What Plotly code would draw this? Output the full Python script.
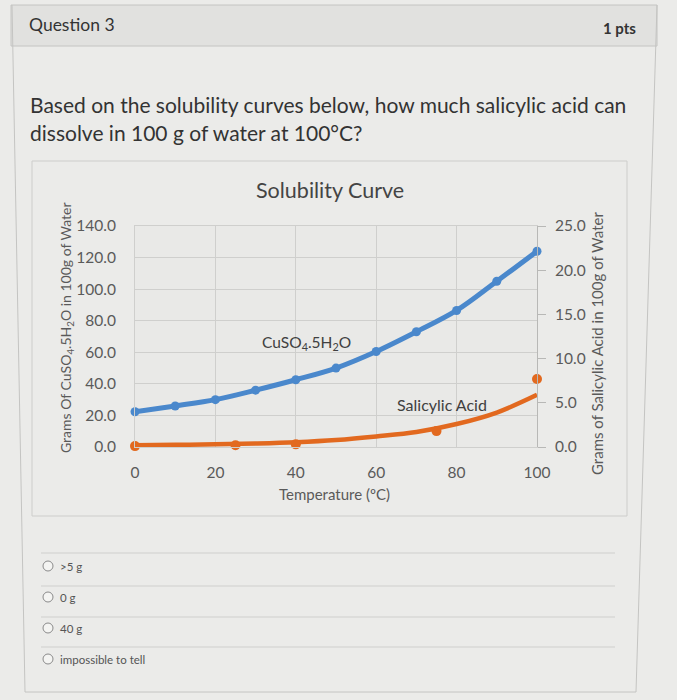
import plotly.graph_objects as go

W, H = 677, 700

# data
temperature = [0, 10, 20, 30, 40, 50, 60, 70, 80, 90, 100]
cuso4 = [22.3, 26.0, 30.0, 36.0, 42.6, 50.0, 60.5, 73.0, 86.5, 105.0, 124.0]

salicylic_temp = [0, 25, 40, 75, 100]
salicylic = [0.1, 0.2, 0.3, 1.8, 7.7]

trend_temp = [0, 10, 20, 30, 40, 50, 60, 70, 80, 90, 100]
salicylic_trend = [0.2, 0.25, 0.3, 0.4, 0.55, 0.8, 1.2, 1.7, 2.6, 3.9, 5.9]

x_ticks = [0, 20, 40, 60, 80, 100]
left_ticks = [0, 20, 40, 60, 80, 100, 120, 140]
right_ticks = [0, 5, 10, 15, 20, 25]

options = [">5 g", "0 g", "40 g", "impossible to tell"]


def px(x, y):
    # pixel position -> paper coordinates
    return x / W, 1 - y / H


BLUE = "#4a88cc"
ORANGE = "#e2691f"
GRID = "#cfcfcd"
TICK = "#5a5a5a"
BG = "#ebebe9"
FONT = "Lato"

fig = go.Figure()

fig.add_trace(go.Scatter(
    x=temperature, y=cuso4, mode="lines+markers", line_shape="spline",
    line=dict(color=BLUE, width=5), marker=dict(color=BLUE, size=9),
    cliponaxis=False, name="CuSO4.5H2O",
))
fig.add_trace(go.Scatter(
    x=trend_temp, y=salicylic_trend, mode="lines", line_shape="spline",
    line=dict(color=ORANGE, width=4.5), yaxis="y2", cliponaxis=False,
    name="Salicylic Acid trend",
))
fig.add_trace(go.Scatter(
    x=salicylic_temp, y=salicylic, mode="markers",
    marker=dict(color=ORANGE, size=10), yaxis="y2", cliponaxis=False,
    name="Salicylic Acid",
))

x0, y0 = px(135, 447)
x1, y1 = px(537, 226)

fig.update_layout(
    width=W, height=H, autosize=False,
    margin=dict(l=0, r=0, t=0, b=0, pad=0),
    paper_bgcolor=BG,
    plot_bgcolor="#e9e9e7",
    showlegend=False,
    font=dict(family=FONT, color=TICK, size=14),
    xaxis=dict(
        domain=[x0, x1], range=[0, 100], tickvals=x_ticks, automargin=False,
        showgrid=True, gridcolor=GRID, gridwidth=1, zeroline=False,
        showline=True, linecolor=GRID, mirror=True,
        ticks="outside", ticklen=11, tickcolor="rgba(0,0,0,0)",
        tickfont=dict(size=15.5, color=TICK),
    ),
    yaxis=dict(
        domain=[y0, y1], range=[0, 140], tickvals=left_ticks, tickformat=".1f",
        automargin=False,
        showgrid=True, gridcolor=GRID, gridwidth=1, zeroline=False,
        showline=True, linecolor=GRID, mirror=True,
        ticks="outside", ticklen=15, tickcolor="rgba(0,0,0,0)",
        tickfont=dict(size=15.5, color=TICK),
    ),
    yaxis2=dict(
        overlaying="y", side="right", range=[0, 25], tickvals=right_ticks,
        tickformat=".1f", showgrid=False, zeroline=False, automargin=False,
        showline=True, linecolor="#b8b8b6",
        ticks="outside", ticklen=8, tickcolor="#b8b8b6",
        ticklabelstandoff=6,
        tickfont=dict(size=15.5, color=TICK),
    ),
)

shapes = []
# card outline (photo is slightly tilted)
shapes.append(dict(type="path", xref="paper", yref="paper",
                   path="M {} {} L {} {} L {} {} L {} {}".format(
                       *px(12, 5), *px(25, 692), *px(636, 692), *px(657, 5)),
                   line=dict(color="#c4c4c2", width=1)))
# header band
shapes.append(dict(type="rect", xref="paper", yref="paper",
                   x0=px(11, 0)[0], x1=px(657, 0)[0], y0=px(0, 46)[1], y1=px(0, 5)[1],
                   fillcolor="#e1e1df", line=dict(color="#c4c4c2", width=1), layer="below"))
# chart frame
shapes.append(dict(type="rect", xref="paper", yref="paper",
                   x0=px(32, 0)[0], x1=px(627, 0)[0], y0=px(0, 516)[1], y1=px(0, 161)[1],
                   line=dict(color="#cdcdcb", width=1), layer="below"))

annotations = [
    dict(text="Question 3", x=px(27, 0)[0], y=px(0, 25)[1], xanchor="left",
         font=dict(size=17.5, color="#333333")),
    dict(text="<b>1 pts</b>", x=px(638, 0)[0], y=px(0, 28)[1], xanchor="right",
         font=dict(size=15, color="#333333")),
    dict(text="Based on the solubility curves below, how much salicylic acid can",
         x=px(28, 0)[0], y=px(0, 104)[1], xanchor="left",
         font=dict(size=21, color="#333333")),
    dict(text="dissolve in 100 g of water at 100°C?",
         x=px(28, 0)[0], y=px(0, 132)[1], xanchor="left",
         font=dict(size=21, color="#333333")),
    dict(text="Solubility Curve", x=px(330, 0)[0], y=px(0, 190)[1],
         font=dict(size=21.5, color="#444444")),
    dict(text="Grams Of CuSO<sub>4</sub>.5H<sub>2</sub>O in 100g of Water",
         x=px(66, 0)[0], y=px(0, 328)[1], textangle=-90,
         font=dict(size=14, color=TICK)),
    dict(text="Grams of Salicylic Acid in 100g of Water",
         x=px(597, 0)[0], y=px(0, 344)[1], textangle=-90,
         font=dict(size=15, color=TICK)),
    dict(text="Temperature (ºC)", x=px(334, 0)[0], y=px(0, 494)[1],
         font=dict(size=15, color=TICK)),
    dict(text="CuSO<sub>4</sub>.5H<sub>2</sub>O", x=px(306, 0)[0], y=px(0, 343)[1],
         font=dict(size=15.5, color="#404040")),
    dict(text="Salicylic Acid", x=px(442, 0)[0], y=px(0, 404)[1],
         font=dict(size=16, color="#404040")),
]

row_y = [566, 597, 628, 659]
line_y = [553, 586, 617, 647]
for ly in line_y:
    shapes.append(dict(type="line", xref="paper", yref="paper",
                       x0=px(41, 0)[0], x1=px(615, 0)[0], y0=px(0, ly)[1], y1=px(0, ly)[1],
                       line=dict(color="#cfcfcd", width=1)))
for label, ry in zip(options, row_y):
    cx, cy = px(48, ry)
    shapes.append(dict(type="circle", xref="paper", yref="paper",
                       x0=cx - 5 / W, x1=cx + 5 / W, y0=cy - 5 / H, y1=cy + 5 / H,
                       line=dict(color="#8a8a8a", width=1), fillcolor="#f4f4f2"))
    annotations.append(dict(text=label, x=px(58, 0)[0], y=cy, xanchor="left",
                            font=dict(size=11.5, color="#555555")))

for a in annotations:
    a.setdefault("xref", "paper")
    a.setdefault("yref", "paper")
    a.setdefault("xanchor", "center")
    a.setdefault("yanchor", "middle")
    a.setdefault("showarrow", False)

fig.update_layout(shapes=shapes, annotations=annotations)

# drop the default 8px body margin so the figure fills the window
fig.write_html("out.html", config={"displayModeBar": False}, post_script=(
    "document.body.style.margin='0';"
    "document.body.style.background='" + BG + "';"
))
